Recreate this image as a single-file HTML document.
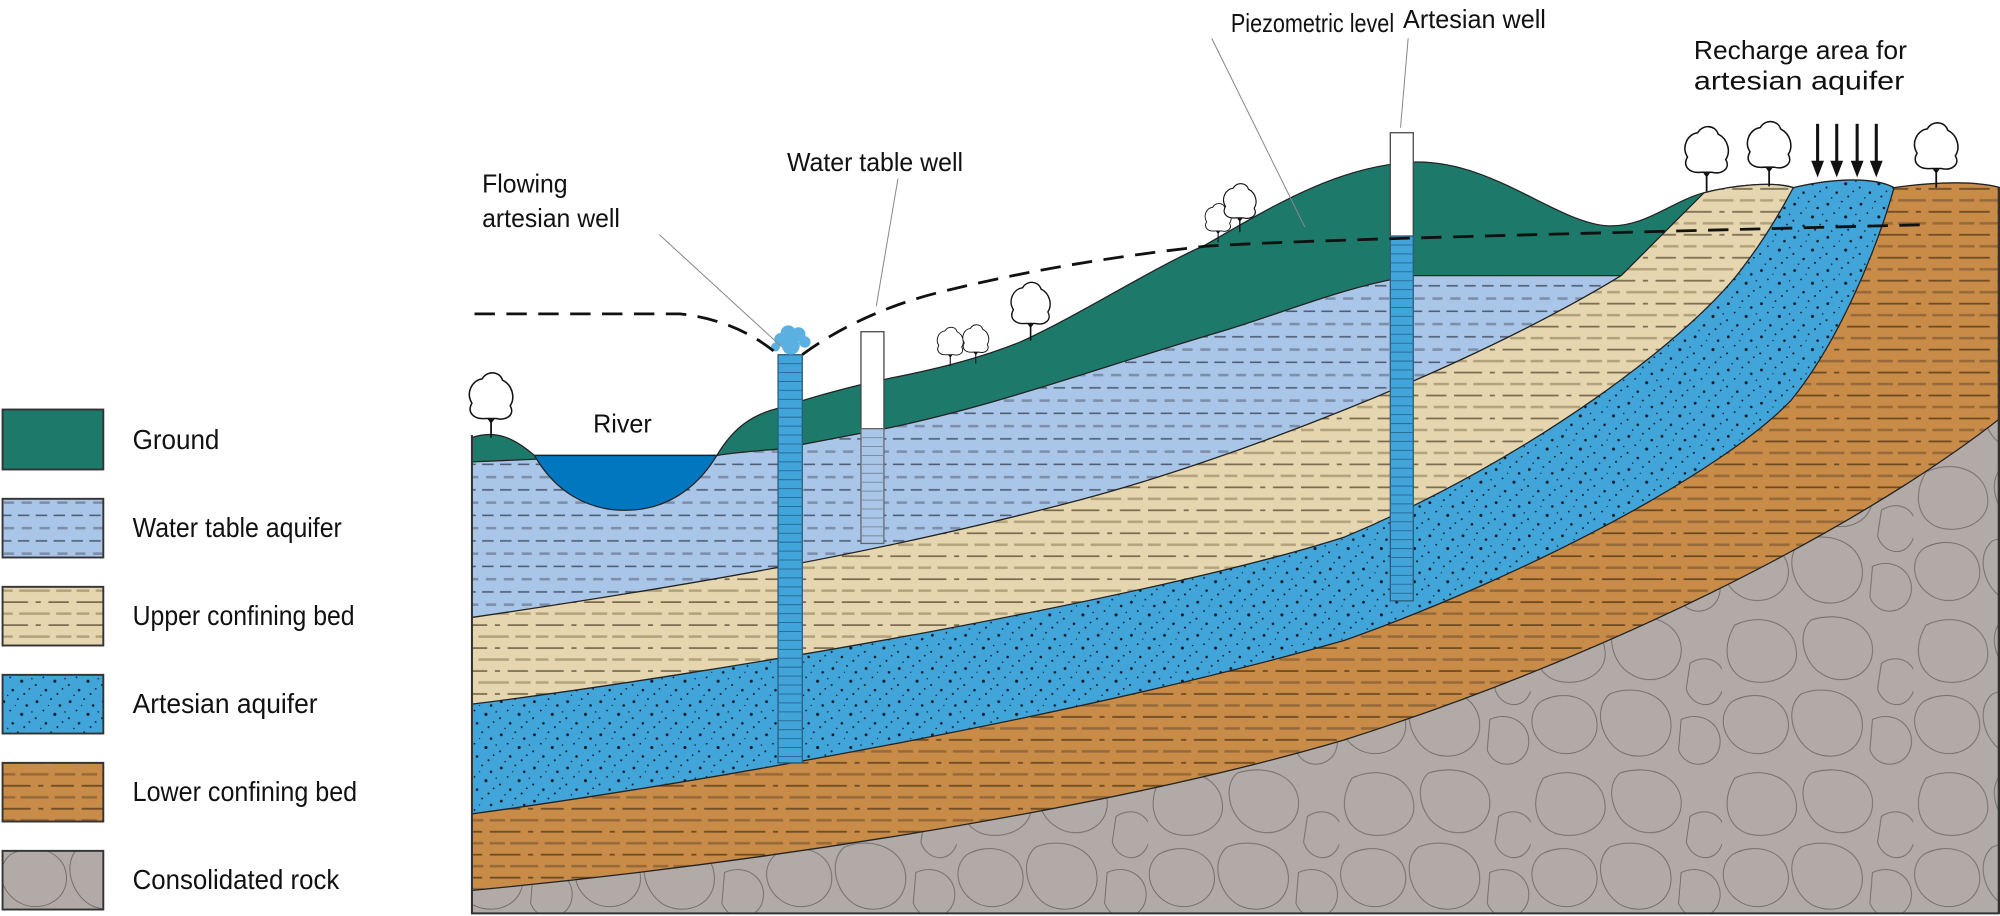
<!DOCTYPE html>
<html><head><meta charset="utf-8"><style>
html,body{margin:0;padding:0;background:#fff;}
svg{display:block;}
text{font-family:"Liberation Sans",Arial,sans-serif;fill:#111;}
</style></head><body>
<svg width="2000" height="916" viewBox="0 0 1568 718" xmlns="http://www.w3.org/2000/svg">
<defs>
<pattern id="pLB" width="28" height="20" patternUnits="userSpaceOnUse">
<rect width="28" height="20" fill="#a9c6e8"/>
<line x1="0" y1="4" x2="28" y2="4" stroke="#4f5d75" stroke-width="1.2" stroke-dasharray="9 5"/>
<line x1="3" y1="14" x2="31" y2="14" stroke="#7d8ea8" stroke-width="2" stroke-dasharray="8 6"/>
</pattern>
<pattern id="pTan" width="60" height="18" patternUnits="userSpaceOnUse">
<rect width="60" height="18" fill="#e6d6b0"/>
<line x1="0" y1="4" x2="60" y2="4" stroke="#7a6c50" stroke-width="1.3" stroke-dasharray="22 6 4 6 16 6"/>
<line x1="0" y1="13" x2="60" y2="13" stroke="#b2a27c" stroke-width="2" stroke-dasharray="10 5 24 5 12 4"/>
</pattern>
<pattern id="pArt" width="26" height="26" patternUnits="userSpaceOnUse">
<rect width="26" height="26" fill="#42a5da"/>
<g fill="#0b1a26">
<circle cx="3" cy="4" r="1.1"/><circle cx="14" cy="2" r="0.7"/><circle cx="21" cy="7" r="1"/>
<circle cx="8" cy="11" r="0.7"/><circle cx="17" cy="14" r="1.2"/><circle cx="2" cy="17" r="0.8"/>
<circle cx="10" cy="21" r="1"/><circle cx="23" cy="20" r="0.7"/><circle cx="25" cy="12" r="0.6"/>
<circle cx="6" cy="25" r="0.6"/><circle cx="19" cy="24" r="0.8"/><circle cx="12" cy="7" r="0.5"/>
</g></pattern>
<pattern id="pBr" width="64" height="18" patternUnits="userSpaceOnUse">
<rect width="64" height="18" fill="#c88b48"/>
<line x1="0" y1="4" x2="64" y2="4" stroke="#6b4a22" stroke-width="1.3" stroke-dasharray="24 6 4 6 18 6"/>
<line x1="0" y1="13" x2="64" y2="13" stroke="#95693a" stroke-width="2" stroke-dasharray="12 4 22 5 16 5"/>
</pattern>
<pattern id="pRock" width="150" height="120" patternUnits="userSpaceOnUse">
<rect width="150" height="120" fill="#b1aaa7"/>
<g fill="none" stroke="#6e6866" stroke-width="0.7">
<path d="M10,10 C30,0 55,8 58,28 C62,48 40,58 22,54 C5,50 -2,30 10,10 Z"/>
<path d="M70,6 C95,-2 120,10 118,32 C116,52 92,58 78,48 C64,40 58,16 70,6 Z"/>
<path d="M125,40 C140,30 158,42 150,62 C144,78 126,74 122,60 Z"/>
<path d="M8,70 C25,60 50,66 52,86 C54,106 32,116 16,108 C0,100 -4,80 8,70 Z"/>
<path d="M62,64 C82,56 108,64 110,86 C112,108 90,118 72,110 C56,102 48,76 62,64 Z"/>
<path d="M118,84 C136,76 152,90 148,106 C144,122 122,124 116,108 Z"/>
</g></pattern>
<g id="tree">
<path d="M0,0 L0,-14 M-5,-19 L0,-12 L5,-19 M0,-21 L0,-12" stroke="#111" stroke-width="1.4" fill="none"/>
<path d="M-4,-15 C-14,-14 -19,-20 -15,-27 C-20,-35 -15,-45 -7,-46 C-3,-53 7,-52 9,-45 C17,-41 19,-31 15,-25 C19,-18 12,-13 4,-15 Z" fill="#fff" stroke="#111" stroke-width="1.2"/>
</g>
<clipPath id="frame"><rect x="370" y="0" width="1198" height="716"/></clipPath>
</defs>

<rect x="2" y="321" width="79" height="47" fill="#1d7a6b" stroke="#333" stroke-width="1.5"/>
<rect x="2" y="391" width="79" height="46" fill="url(#pLB)" stroke="#333" stroke-width="1.5"/>
<rect x="2" y="460" width="79" height="46" fill="url(#pTan)" stroke="#333" stroke-width="1.5"/>
<rect x="2" y="529" width="79" height="46" fill="url(#pArt)" stroke="#333" stroke-width="1.5"/>
<rect x="2" y="598" width="79" height="46" fill="url(#pBr)" stroke="#333" stroke-width="1.5"/>
<rect x="2" y="667" width="79" height="46" fill="url(#pRock)" stroke="#333" stroke-width="1.5"/>
<g font-size="22">
<text x="104" y="352" textLength="68" lengthAdjust="spacingAndGlyphs">Ground</text>
<text x="104" y="421" textLength="164" lengthAdjust="spacingAndGlyphs">Water table aquifer</text>
<text x="104" y="490" textLength="174" lengthAdjust="spacingAndGlyphs">Upper confining bed</text>
<text x="104" y="559" textLength="145" lengthAdjust="spacingAndGlyphs">Artesian aquifer</text>
<text x="104" y="628" textLength="176" lengthAdjust="spacingAndGlyphs">Lower confining bed</text>
<text x="104" y="697" textLength="162" lengthAdjust="spacingAndGlyphs">Consolidated rock</text>
</g>

<g clip-path="url(#frame)" stroke="#222" stroke-width="1">
<path fill="#1d7a6b" d="M370,343 C390,336 405,345 419,357 L562,357 C575,335 590,325 610,320 C650,307 680,300 700,296 C740,288 770,280 800,268 C850,245 900,212 945,192 C1000,160 1050,130 1108,127 C1170,125 1220,175 1261,177 C1290,178 1310,158 1336,151 C1360,145 1390,142 1406,147 L1568,147 L1568,716 L370,716 Z"/>
<path fill="url(#pLB)" d="M370,362 L419,360 L562,357 C580,354 600,353 610,352 L694,336 C780,318 850,292 950,262 C1000,248 1050,225 1108,216 L1271,216 L1568,216 L1568,716 L370,716 Z"/>
<path fill="#0077be" d="M419,357 L562,357 C545,385 520,400 490,400 C460,400 435,385 419,357 Z"/>
<path fill="url(#pTan)" d="M370,484 C520,462 680,436 846,392 C960,362 1150,290 1271,216 L1336,151 C1360,145 1390,142 1406,147 L1568,147 L1568,716 L370,716 Z"/>
<path fill="url(#pArt)" d="M370,552 C560,528 900,470 1054,421 C1200,360 1330,262 1369,206 C1385,185 1398,162 1406,147 C1440,139 1470,139 1485,147 L1568,147 L1568,716 L370,716 Z"/>
<path fill="url(#pBr)" d="M370,638 C560,612 850,560 1054,502 C1200,450 1350,370 1404,314 C1440,270 1470,200 1485,147 C1520,142 1550,142 1568,147 L1568,716 L370,716 Z"/>
<path fill="url(#pRock)" d="M370,698 C560,680 850,640 1054,580 C1250,518 1450,420 1568,328 L1568,716 L370,716 Z"/>
</g>

<path d="M370,341 L370,716 L1567,716 L1567,147" fill="none" stroke="#333" stroke-width="1.6"/>

<g stroke="#2a5b7a" stroke-width="1">
<rect x="610" y="278" width="19" height="320" fill="#42a5da"/>
<path d="M610,285 H629 M610,292 H629 M610,299 H629 M610,306 H629 M610,313 H629 M610,320 H629 M610,327 H629 M610,334 H629 M610,341 H629 M610,348 H629 M610,355 H629 M610,362 H629 M610,369 H629 M610,376 H629 M610,383 H629 M610,390 H629 M610,397 H629 M610,404 H629 M610,411 H629 M610,418 H629 M610,425 H629 M610,432 H629 M610,439 H629 M610,446 H629 M610,453 H629 M610,460 H629 M610,467 H629 M610,474 H629 M610,481 H629 M610,488 H629 M610,495 H629 M610,502 H629 M610,509 H629 M610,516 H629 M610,523 H629 M610,530 H629 M610,537 H629 M610,544 H629 M610,551 H629 M610,558 H629 M610,565 H629 M610,572 H629 M610,579 H629 M610,586 H629 M610,593 H629" stroke="#2a6f9a" stroke-width="0.8"/>
</g>
<g fill="#5ab0e0">
<circle cx="612" cy="266" r="5"/><circle cx="618" cy="261" r="6"/><circle cx="626" cy="262" r="5.5"/><circle cx="631" cy="268" r="4.5"/><circle cx="620" cy="271" r="7"/><circle cx="608" cy="272" r="3.5"/>
</g>
<rect x="675" y="260" width="18" height="76" fill="#fff" stroke="#444" stroke-width="1"/>
<rect x="675" y="336" width="18" height="90" fill="#a9c6e8" stroke="#666" stroke-width="1"/>
<path d="M675,343 H693 M675,350 H693 M675,357 H693 M675,364 H693 M675,371 H693 M675,378 H693 M675,385 H693 M675,392 H693 M675,399 H693 M675,406 H693 M675,413 H693 M675,420 H693" stroke="#7d8ea8" stroke-width="0.8"/>
<rect x="1090" y="104" width="18" height="81" fill="#fff" stroke="#444" stroke-width="1"/>
<rect x="1090" y="185" width="18" height="286" fill="#42a5da" stroke="#2a5b7a" stroke-width="1"/>
<path d="M1090,192 H1108 M1090,199 H1108 M1090,206 H1108 M1090,213 H1108 M1090,220 H1108 M1090,227 H1108 M1090,234 H1108 M1090,241 H1108 M1090,248 H1108 M1090,255 H1108 M1090,262 H1108 M1090,269 H1108 M1090,276 H1108 M1090,283 H1108 M1090,290 H1108 M1090,297 H1108 M1090,304 H1108 M1090,311 H1108 M1090,318 H1108 M1090,325 H1108 M1090,332 H1108 M1090,339 H1108 M1090,346 H1108 M1090,353 H1108 M1090,360 H1108 M1090,367 H1108 M1090,374 H1108 M1090,381 H1108 M1090,388 H1108 M1090,395 H1108 M1090,402 H1108 M1090,409 H1108 M1090,416 H1108 M1090,423 H1108 M1090,430 H1108 M1090,437 H1108 M1090,444 H1108 M1090,451 H1108 M1090,458 H1108 M1090,465 H1108" stroke="#2a6f9a" stroke-width="0.8"/>

<path d="M372,246 L533,246 C570,250 595,265 610,278 M629,278 C660,255 700,238 737,229 C820,208 900,198 945,193 C1020,188 1200,184 1512,176" fill="none" stroke="#111" stroke-width="2.2" stroke-dasharray="16 9"/>

<use href="#tree" transform="translate(385,343)"/>
<use href="#tree" transform="translate(745,287) scale(0.6)"/>
<use href="#tree" transform="translate(765,285) scale(0.6)"/>
<use href="#tree" transform="translate(808,267) scale(0.9)"/>
<use href="#tree" transform="translate(955,190) scale(0.6)"/>
<use href="#tree" transform="translate(972,182) scale(0.75)"/>
<use href="#tree" transform="translate(1338,150)"/>
<use href="#tree" transform="translate(1387,146)"/>
<use href="#tree" transform="translate(1518,147)"/>

<g stroke="#111" stroke-width="2.4">
<line x1="1425" y1="97" x2="1425" y2="128"/><line x1="1440" y1="97" x2="1440" y2="128"/>
<line x1="1456" y1="97" x2="1456" y2="128"/><line x1="1471" y1="97" x2="1471" y2="128"/>
</g>
<g fill="#111">
<path d="M1420,126 L1430,126 L1425,139 Z"/><path d="M1435,126 L1445,126 L1440,139 Z"/>
<path d="M1451,126 L1461,126 L1456,139 Z"/><path d="M1466,126 L1476,126 L1471,139 Z"/>
</g>

<g stroke="#888" stroke-width="0.8">
<line x1="517" y1="184" x2="613" y2="272"/>
<line x1="704" y1="140" x2="687" y2="240"/>
<line x1="950" y1="30" x2="1023" y2="178"/>
<line x1="1104" y1="30" x2="1098" y2="100"/>
</g>

<g font-size="20">
<text x="378" y="151" textLength="67" lengthAdjust="spacingAndGlyphs">Flowing</text>
<text x="378" y="178" textLength="108" lengthAdjust="spacingAndGlyphs">artesian well</text>
<text x="465" y="339" textLength="46" lengthAdjust="spacingAndGlyphs">River</text>
<text x="617" y="134" textLength="138" lengthAdjust="spacingAndGlyphs">Water table well</text>
<text x="965" y="25" textLength="128" lengthAdjust="spacingAndGlyphs">Piezometric level</text>
<text x="1100" y="22" textLength="112" lengthAdjust="spacingAndGlyphs">Artesian well</text>
<text x="1328" y="46" textLength="167" lengthAdjust="spacingAndGlyphs">Recharge area for</text>
<text x="1328" y="70" textLength="165" lengthAdjust="spacingAndGlyphs">artesian aquifer</text>
</g>
</svg>
</body></html>
